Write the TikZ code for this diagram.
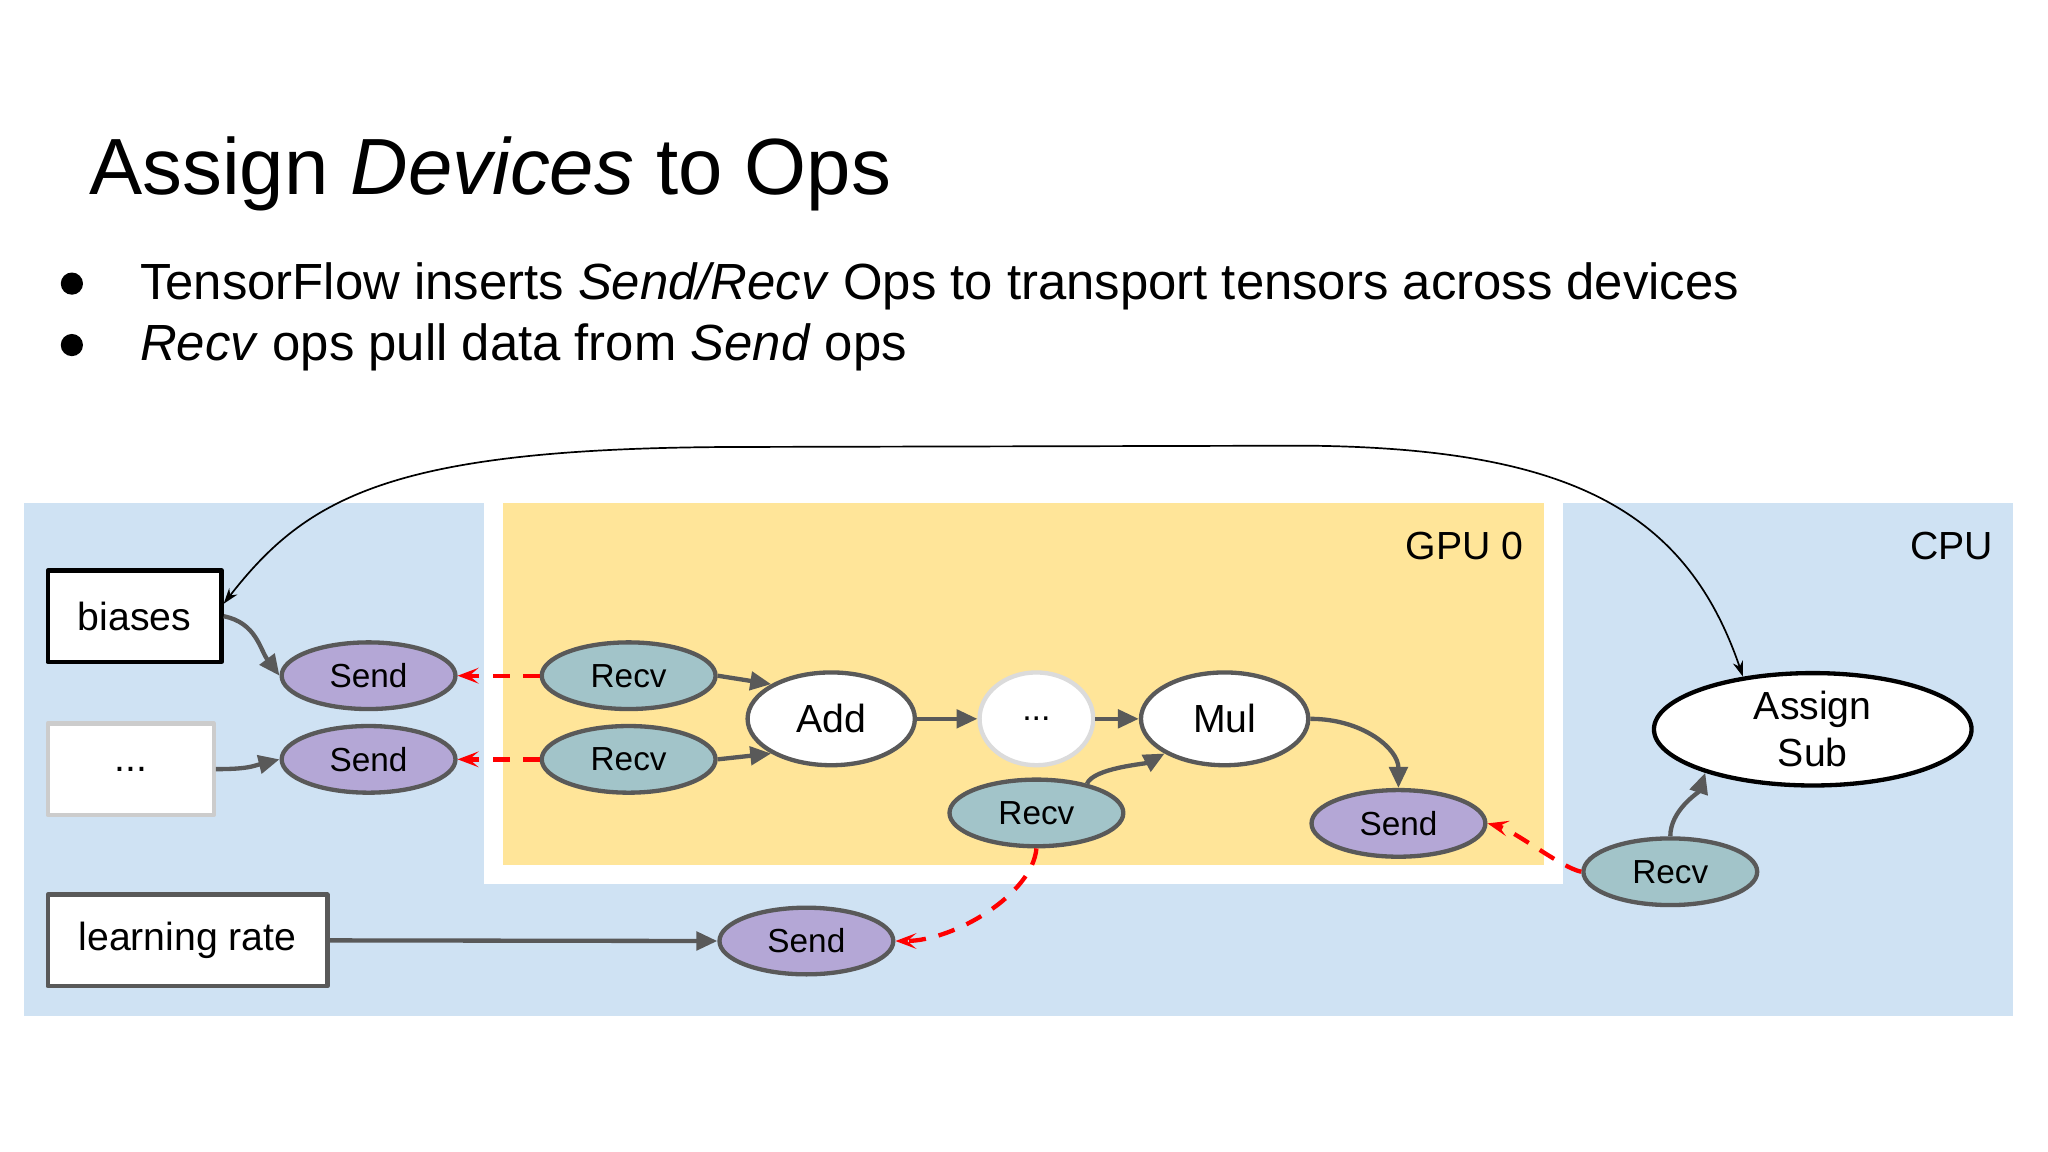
\documentclass[tikz,border=0pt]{standalone}
\usepackage{fontspec}
\setmainfont{Liberation Sans}
\usetikzlibrary{arrows.meta,shapes.geometric}
\definecolor{cpublue}{HTML}{CFE2F3}
\definecolor{gpuyellow}{HTML}{FFE599}
\definecolor{sendpurple}{HTML}{B4A7D6}
\definecolor{recvteal}{HTML}{A2C4C9}
\definecolor{opgray}{HTML}{595959}
\definecolor{lightborder}{HTML}{CCCCCC}
\begin{document}
\begin{tikzpicture}[x=1pt,y=-1pt, line join=round, >={Stealth[length=12pt,width=8pt]},
	op/.style={ellipse, draw=opgray, line width=3.3pt, minimum width=133pt, minimum height=51pt, inner sep=0pt, font=\fontsize{25.5}{30}\selectfont},
	sendop/.style={op, fill=sendpurple},
	recvop/.style={op, fill=recvteal},
	mathop/.style={op, fill=white, minimum width=128pt, minimum height=71pt, font=\fontsize{30}{36}\selectfont},
	var/.style={draw, line width=3.3pt, fill=white, minimum height=70pt, inner sep=0pt, font=\fontsize{30}{36}\selectfont},
	flow/.style={draw=opgray, line width=3.3pt, -{Triangle[length=16pt,width=14pt]}},
	xfer/.style={draw=red, line width=3.3pt, dash pattern=on 13pt off 10pt, -{Stealth[length=16pt,width=12pt,inset=7pt]}}]
	\useasboundingbox (0,0) rectangle (1567,881.4);
	\node[anchor=base west, inner sep=0pt, font=\fontsize{61}{72}\selectfont] (title) at (68,148.5) {Assign \textit{Devices} to Ops};
	\fill (55,217) circle (8.5pt);
	\fill (55,264) circle (8.5pt);
	\node[anchor=base west, inner sep=0pt, font=\fontsize{38.9}{46}\selectfont] (point1) at (107,229) {TensorFlow inserts \textit{Send/Recv} Ops to transport tensors across devices};
	\node[anchor=base west, inner sep=0pt, font=\fontsize{38.9}{46}\selectfont] (point2) at (107,276) {\textit{Recv} ops pull data from \textit{Send} ops};
	% devices
	\fill[cpublue] (18,385) rectangle (1540,777);
	\fill[white] (370,385) rectangle (1196,676);
	\fill[gpuyellow] (385,385) rectangle (1181,662);
	\node[anchor=base east, inner sep=0pt, font=\fontsize{30}{36}\selectfont] (gpu) at (1166,428) {GPU 0};
	\node[anchor=base east, inner sep=0pt, font=\fontsize{30}{36}\selectfont] (cpu) at (1525,428) {CPU};
	% variables
	\node[var, minimum width=133pt] (biases) at (103,471.5) {biases};
	\node[var, draw=lightborder, minimum width=127pt] (others) at (100,588.5) {...};
	\node[var, draw=opgray, minimum width=214pt] (lrate) at (143.5,719.5) {learning rate};
	% ops
	\node[sendop] (send1) at (282,517) {Send};
	\node[sendop] (send2) at (282,581) {Send};
	\node[recvop] (recv1) at (481,517) {Recv};
	\node[recvop] (recv2) at (481,581) {Recv};
	\node[mathop] (add) at (636,550) {Add};
	\node[mathop, draw=lightborder!70, minimum width=87pt, font=\fontsize{26}{30}\selectfont] (more) at (793,550) {...};
	\node[mathop] (mul) at (937,550) {Mul};
	\node[recvop] (recv3) at (793,622) {Recv};
	\node[sendop] (send3) at (1070,630) {Send};
	\node[recvop] (recv4) at (1278,667) {Recv};
	\node[sendop] (send4) at (617,720) {Send};
	\node[mathop, draw=black, minimum width=243pt, minimum height=86pt, align=center] (assign) at (1387,558) {Assign\\Sub};
	% edges
	\draw[flow] (biases.east) .. controls +(25,5) and +(-15,-20) .. (send1.west);
	\draw[flow] (others.east) .. controls +(25,0) and +(-20,5) .. (send2.west);
	\draw[flow] (recv1.east) -- (add.150);
	\draw[flow] (recv2.east) -- (add.210);
	\draw[flow] (add.east) -- (more.west);
	\draw[flow] (more.east) -- (mul.west);
	\draw[flow] (recv3.30) .. controls +(5,-12) and +(-15,8) .. (mul.210);
	\draw[flow] (mul.east) .. controls +(40,0) and +(0,-30) .. (send3.north);
	\draw[flow] (recv4.north) .. controls +(0,-20) and +(-5,15) .. (assign.202);
	\draw[flow] (lrate.east) -- (send4.west);
	\draw[xfer] (recv1.west) -- (send1.east);
	\draw[xfer] (recv2.west) -- (send2.east);
	\draw[xfer] (recv3.south) .. controls +(-3,35) and +(45,0) .. (send4.east);
	\draw[xfer] (recv4.west) .. controls +(-15,-3) and +(20,5) .. (send3.east);
	\draw[<->, line width=1.3pt] (biases.8) .. controls (235,380) and (300,343) .. (560,342) -- (1000,341) .. controls (1200,343) and (1290,390) .. (assign.143);
\end{tikzpicture}
\end{document}
